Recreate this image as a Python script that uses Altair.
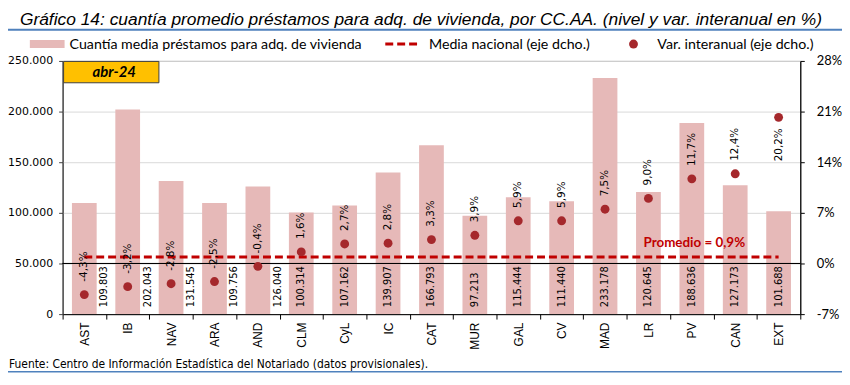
import altair as alt
import pandas as pd

categories = ["AST", "IB", "NAV", "ARA", "AND", "CLM", "CyL", "IC", "CAT", "MUR",
              "GAL", "CV", "MAD", "LR", "PV", "CAN", "EXT"]
cuantia = [109803, 202043, 131545, 109756, 126040, 100314, 107162, 139907, 166793,
           97213, 115444, 111440, 233178, 120645, 188636, 127173, 101688]
var_interanual = [-4.3, -3.2, -2.8, -2.5, -0.4, 1.6, 2.7, 2.8, 3.3, 3.9, 5.9, 5.9,
                  7.5, 9.0, 11.7, 12.4, 20.2]
media_nacional = 0.9
left_ticks = [0, 50000, 100000, 150000, 200000, 250000]
right_ticks = [-7, 0, 7, 14, 21, 28]

BAR = "#E6B9B8"
DOT = "#A5282C"
RED = "#C00000"
BLUE = "#4F81BD"
F_TAH = "DejaVu Sans"
F_CAL = "Lato"
F_ARI = "Liberation Sans"
F_NAR = "Liberation Sans Narrow, DejaVu Sans Condensed, sans-serif"

W, H = 743, 255

df = pd.DataFrame({
    "cat": categories,
    "val": cuantia,
    "pct": var_interanual,
    "idx": list(range(len(categories))),
})
df["val_lbl"] = [f"{v:,}".replace(",", ".") for v in cuantia]
df["pct_lbl"] = [f"{p:.1f}".replace(".", ",") + "%" for p in var_interanual]

df_media = pd.DataFrame({"cat": [categories[0], categories[-1]],
                         "pct": [media_nacional, media_nacional]})
df_prom = pd.DataFrame({"cat": ["LR"], "pct": [media_nacional],
                        "lbl": ["Promedio = " + f"{media_nacional:.1f}".replace(".", ",") + "%"]})

x_enc = alt.X("cat:N", sort=categories,
              scale=alt.Scale(domain=categories, paddingInner=0, paddingOuter=0),
              axis=alt.Axis(title=None, labelAngle=270, tickBand="extent",
                            labelFont=F_ARI, labelFontSize=12, labelColor="#000",
                            tickSize=5, labelPadding=3, domainColor="#000",
                            tickColor="#000", grid=False))

y_left = alt.Y("val:Q", scale=alt.Scale(domain=[0, 250000], nice=False, zero=False),
               axis=alt.Axis(title=None, orient="left", values=left_ticks,
                             labelExpr="replace(format(datum.value, ','), ',', '.')",
                             labelFont=F_TAH, labelFontSize=11, labelColor="#000",
                             grid=True, gridColor="#D9D9D9", tickSize=4,
                             labelPadding=6, domainColor="#404040", tickColor="#404040"))

base = alt.Chart(df)

bars = base.mark_bar(color=BAR, width=alt.RelativeBandSize(0.57)).encode(
    x=x_enc, y=y_left)

lbl_common = dict(angle=270, align="left", baseline="middle", font=F_TAH,
                  fontSize=10, color="#000", dx=7)
bar_lbl_a = base.transform_filter("datum.idx < 5").mark_text(dy=20, **lbl_common).encode(
    x=x_enc, y=alt.Y("zero:Q", scale=alt.Scale(domain=[0, 250000], nice=False)),
    text="val_lbl:N").transform_calculate(zero="0")
bar_lbl_b = base.transform_filter("datum.idx >= 5").mark_text(**lbl_common).encode(
    x=x_enc, y=alt.Y("zero:Q", scale=alt.Scale(domain=[0, 250000], nice=False)),
    text="val_lbl:N").transform_calculate(zero="0")

left_group = alt.layer(bars, bar_lbl_a, bar_lbl_b)

y_right = alt.Y("pct:Q", scale=alt.Scale(domain=[-7, 28], nice=False, zero=False),
                axis=alt.Axis(title=None, orient="right", values=right_ticks,
                              labelExpr="datum.value + '%'", labelFont=F_CAL,
                              labelFontSize=13, labelColor="#000", grid=False,
                              tickSize=4, labelPadding=12, domainColor="#000",
                              tickColor="#000"))

zero_rule = alt.Chart(df_media).mark_rule(color="#000", strokeWidth=1).encode(
    y=alt.datum(0))

media_line = alt.Chart(df_media).mark_line(color=RED, strokeWidth=3,
                                           strokeDash=[8, 4]).encode(x=x_enc, y=y_right)

dots = base.mark_circle(color=DOT, size=80, opacity=1).encode(x=x_enc, y=y_right)

pct_common = dict(angle=270, baseline="middle", font=F_TAH, fontSize=10.5, color="#000")
pct_above = base.transform_filter("datum.cat != 'EXT'").mark_text(
    align="left", dx=13, **pct_common).encode(x=x_enc, y=y_right, text="pct_lbl:N")
pct_below = base.transform_filter("datum.cat == 'EXT'").mark_text(
    align="right", dx=-11, **pct_common).encode(x=x_enc, y=y_right, text="pct_lbl:N")

prom = alt.Chart(df_prom).mark_text(align="left", baseline="middle", dx=-5, dy=-14,
                                    font=F_CAL, fontSize=13.5, fontWeight="bold",
                                    color=RED).encode(x=x_enc, y=y_right, text="lbl:N")

right_group = alt.layer(zero_rule, media_line, dots, pct_above, pct_below, prom)

# ---- annotations (title, legend, date box, source) ----
one = alt.Chart(pd.DataFrame({"a": [0]}))

title = one.mark_text(align="left", baseline="alphabetic", font=F_ARI, fontSize=17.5,
                      fontStyle="italic", color="#000").encode(
    x=alt.value(-43), y=alt.value(-36),
    text=alt.value("Gráfico 14: cuantía promedio préstamos para adq. de vivienda, por CC.AA. (nivel y var. interanual en %)"))
top_line = one.mark_rule(color=BLUE, strokeWidth=2).encode(
    x=alt.value(-55), x2=alt.value(787), y=alt.value(-31.5))

leg_rect = one.mark_rect(color=BAR).encode(
    x=alt.value(-33), x2=alt.value(2), y=alt.value(-21), y2=alt.value(-13))
leg_font = dict(align="left", baseline="middle", font=F_CAL, fontSize=14.3, color="#000")
leg_txt1 = one.mark_text(**leg_font).encode(
    x=alt.value(7), y=alt.value(-16.5),
    text=alt.value("Cuantía media préstamos para adq. de vivienda"))
leg_dash = one.mark_rule(color=RED, strokeWidth=3, strokeDash=[8, 4]).encode(
    x=alt.value(325), x2=alt.value(360), y=alt.value(-17))
leg_txt2 = one.mark_text(**leg_font).encode(
    x=alt.value(369), y=alt.value(-16.5), text=alt.value("Media nacional (eje dcho.)"))
leg_dot = one.mark_circle(color=DOT, size=80, opacity=1).encode(
    x=alt.value(575), y=alt.value(-17))
leg_txt3 = one.mark_text(**leg_font).encode(
    x=alt.value(599), y=alt.value(-16.5), text=alt.value("Var. interanual (eje dcho.)"))

box = one.mark_rect(color="#FFC000", stroke="#404040", strokeWidth=1).encode(
    x=alt.value(1), x2=alt.value(97), y=alt.value(0.5), y2=alt.value(22))
box_txt = one.mark_text(align="center", baseline="middle", font=F_CAL, fontSize=15,
                        fontWeight="bold", fontStyle="italic", color="#000").encode(
    x=alt.value(52), y=alt.value(11.5), text=alt.value("abr-24"))

fuente = one.mark_text(align="left", baseline="alphabetic", font=F_NAR, fontSize=12,
                       color="#000").encode(
    x=alt.value(-54), y=alt.value(309),
    text=alt.value("Fuente: Centro de Información Estadística del Notariado (datos provisionales)."))
bottom_line = one.mark_rule(color=BLUE, strokeWidth=1.5).encode(
    x=alt.value(-55), x2=alt.value(787), y=alt.value(313))

annotations = alt.layer(title, top_line, leg_rect, leg_txt1, leg_dash, leg_txt2,
                        leg_dot, leg_txt3, box, box_txt, fuente, bottom_line)

chart = alt.layer(left_group, right_group, annotations).resolve_scale(
    y="independent"
).properties(
    width=W, height=H,
    padding={"left": 55, "top": 52, "right": 42, "bottom": 59},
    autosize=alt.AutoSizeParams(type="none"),
    background="white",
).configure_view(stroke="#404040", strokeWidth=1)

chart.save("out.html", embed_options={"renderer": "svg", "actions": False})
